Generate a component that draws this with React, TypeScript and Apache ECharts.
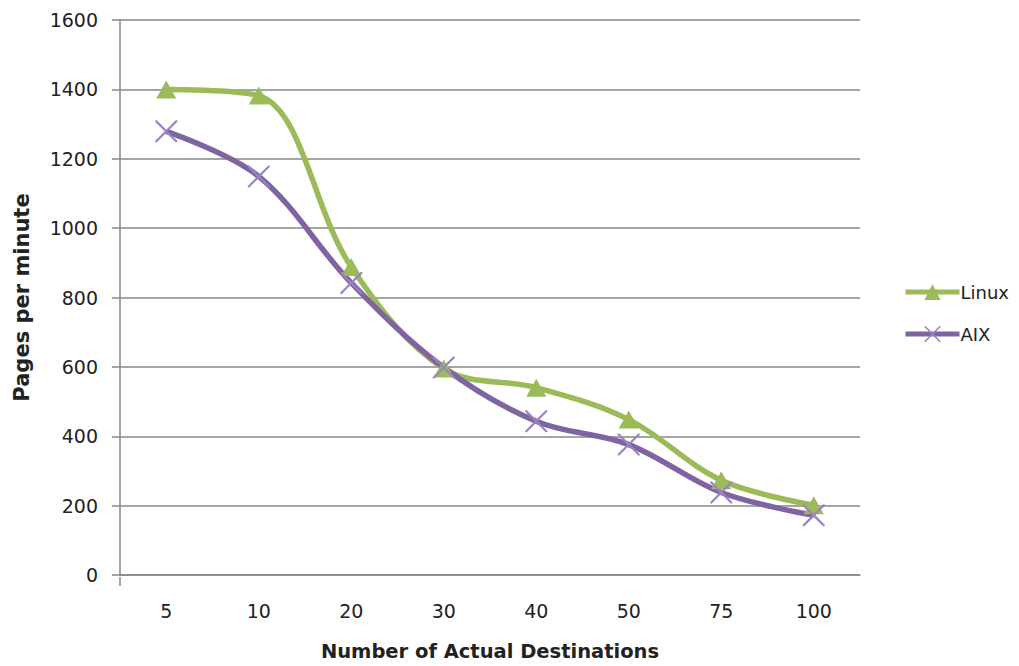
import React, { useEffect, useRef } from "react";
import * as echarts from "echarts";

const categories = ["5", "10", "20", "30", "40", "50", "75", "100"];
const linuxValues = [1400, 1382, 888, 595, 540, 448, 273, 201];
const aixValues = [1279, 1149, 842, 598, 443, 376, 238, 172];
const yTicks = { min: 0, max: 1600, interval: 200 };

const GREEN = "#9BBB59";
const PURPLE = "#8064A2";
const CROSS =
  "path://M0,0L1.4,0L10,8.6L18.6,0L20,0L20,1.4L11.4,10L20,18.6L20,20L18.6,20L10,11.4L1.4,20L0,20L0,18.6L8.6,10L0,1.4Z";
const FONT = "DejaVu Sans";
const AXIS_GREY = "#878787";

export default function App() {
  const ref = useRef<HTMLDivElement>(null);
  useEffect(() => {
    if (!ref.current) return;
    const chart = echarts.init(ref.current, undefined, { renderer: "svg" });
    chart.setOption({
      animation: false,
      backgroundColor: "#ffffff",
      textStyle: { fontFamily: FONT },
      grid: { left: 120, right: 159, top: 20, bottom: 89, containLabel: false },
      graphic: [
        {
          type: "line",
          shape: { x1: 120, y1: 577, x2: 120, y2: 586 },
          style: { stroke: AXIS_GREY, lineWidth: 1.5 },
        },
      ],
      legend: {
        orient: "vertical",
        left: 898,
        top: 278,
        itemWidth: 54,
        itemHeight: 20,
        itemGap: 24,
        lineStyle: { width: 5 },
        textStyle: { fontFamily: FONT, fontSize: 18, color: "#222", padding: [0, 0, 0, -4] },
        data: ["Linux", "AIX"],
      },
      xAxis: {
        type: "category",
        data: categories,
        boundaryGap: true,
        axisLine: { lineStyle: { color: AXIS_GREY, width: 1.5 } },
        axisTick: { alignWithLabel: true, length: 8, lineStyle: { color: AXIS_GREY, width: 1.5 } },
        axisLabel: { fontFamily: FONT, fontSize: 19, color: "#222", margin: 26 },
        name: "Number of Actual Destinations",
        nameLocation: "middle",
        nameGap: 66,
        nameTextStyle: { fontFamily: FONT, fontSize: 19.5, fontWeight: "bold", color: "#222" },
      },
      yAxis: {
        type: "value",
        min: yTicks.min,
        max: yTicks.max,
        interval: yTicks.interval,
        axisLine: { show: true, lineStyle: { color: AXIS_GREY, width: 1.5 } },
        axisTick: { show: true, length: 8, lineStyle: { color: AXIS_GREY, width: 1.5 } },
        splitLine: { lineStyle: { color: AXIS_GREY, width: 1.5 } },
        axisLabel: {
          fontFamily: FONT,
          fontSize: 19,
          color: "#222",
          margin: 22,
          formatter: (v: number) => String(v),
        },
        name: "Pages per minute",
        nameLocation: "middle",
        nameGap: 88,
        nameTextStyle: { fontFamily: FONT, fontSize: 21, fontWeight: "bold", color: "#222" },
      },
      series: [
        {
          name: "Linux",
          type: "line",
          data: linuxValues,
          smooth: 0.35,
          symbol: "triangle",
          symbolSize: [20, 18],
          lineStyle: { color: GREEN, width: 5.5 },
          itemStyle: { color: GREEN },
        },
        {
          name: "AIX",
          type: "line",
          data: aixValues,
          smooth: 0.35,
          symbol: CROSS,
          symbolSize: 22,
          lineStyle: { color: PURPLE, width: 5.5 },
          itemStyle: { color: "#9a82c4" },
        },
      ],
    });
    return () => chart.dispose();
  }, []);
  return <div ref={ref} style={{ width: 1019, height: 666, position: "absolute", left: 0, top: 0 }} />;
}
